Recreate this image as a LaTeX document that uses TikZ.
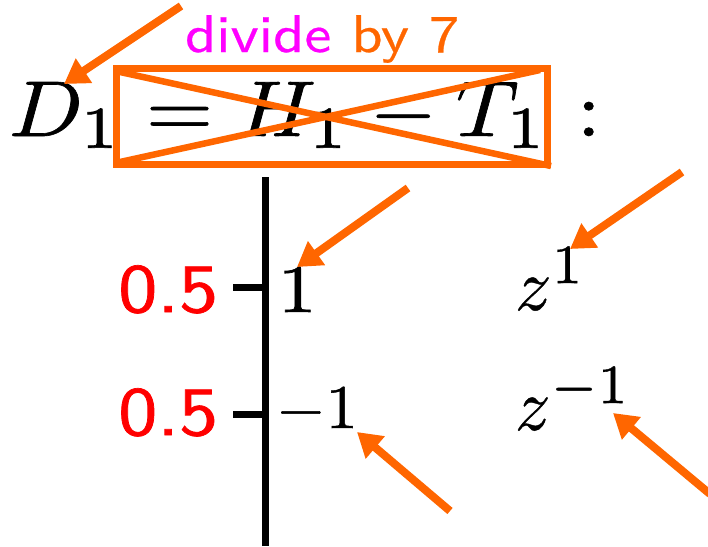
\RequirePackage{fix-cm}
\documentclass[tikz,border=0pt]{standalone}
\usepackage{amsmath}
\usetikzlibrary{arrows.meta}
\DeclareMathSizes{10}{10}{7.5}{5}
\definecolor{orangeC}{RGB}{255,102,0}
\definecolor{magC}{RGB}{255,0,255}
\definecolor{redC}{RGB}{255,0,0}
\newcommand\fbold[2]{\special{pdf:literal direct 2 Tr #1 w}#2\special{pdf:literal direct 0 Tr}}
\begin{document}
\begin{tikzpicture}[x=1pt,y=-1pt,
  oarrow/.style={draw=orangeC,line width=8pt,-{Triangle[length=24pt,width=28pt]}},
  obox/.style={draw=orangeC,line width=7pt},
  axisline/.style={draw=black,line width=7pt},
  lbl/.style={inner sep=0pt,outer sep=0pt,font=\fontsize{10}{12}\selectfont},
  ]
\useasboundingbox (0,0) rectangle (708,546);
% title
\node[lbl,anchor=base west] (title) at (9,136)
  {\scalebox{8.65}[7.9]{\fbold{0.08}{$D_1 = H_1 - T_1\mskip1mu:$}}};
\node[lbl,anchor=base west] (div) at (185,52)
  {\scalebox{6.05}[5.3]{\fbold{0.04}{\sffamily\textcolor{magC}{divide} \textcolor{orangeC}{by 7}}}};
% crossed box
\coordinate (bxA) at (116,68.5);
\coordinate (bxB) at (547.5,164.5);
\draw[obox] (bxA) rectangle (bxB);
\coordinate (c1a) at (120,72);
\coordinate (c1b) at (551,166);
\coordinate (c2a) at (120,162);
\coordinate (c2b) at (540,70);
\draw[obox,line width=6.5pt] (c1a) -- (c1b);
\draw[obox,line width=6.5pt] (c2a) -- (c2b);
% axis
\coordinate (axT) at (265.5,177);
\coordinate (axB) at (265.5,546);
\draw[axisline] (axT) -- (axB);
\coordinate (t1a) at (233,287);
\coordinate (t1b) at (265.5,287);
\coordinate (t2a) at (233,414);
\coordinate (t2b) at (265.5,414);
\draw[axisline] (t1a) -- (t1b);
\draw[axisline] (t2a) -- (t2b);
% labels
\node[lbl,anchor=base east,text=redC] (w1) at (218,312)
  {\scalebox{7.8}[6.9]{\fbold{0.1}{\sffamily 0.5}}};
\node[lbl,anchor=base east,text=redC] (w2) at (218,435)
  {\scalebox{7.8}[6.9]{\fbold{0.1}{\sffamily 0.5}}};
\node[lbl,anchor=base west] (v1) at (278,312)
  {\scalebox{7.7}[6.8]{\fbold{0.1}{$1$}}};
\node[lbl,anchor=base west] (v2) at (276,428)
  {\scalebox{6.4}[6.2]{\fbold{0.08}{$-1$}}};
\node[lbl,anchor=base west] (z1) at (515,310)
  {\scalebox{7.2}[7.4]{\fbold{0.05}{$z^{1}$}}};
\node[lbl,anchor=base west] (z2) at (515,430)
  {\scalebox{7.0}[7.4]{\fbold{0.05}{$z^{-1}$}}};
% arrows
\coordinate (a1s) at (181,6);   \coordinate (a1e) at (64,84);
\coordinate (a2s) at (408,188); \coordinate (a2e) at (297,267);
\coordinate (a3s) at (450,511); \coordinate (a3e) at (357,432);
\coordinate (a4s) at (682,172); \coordinate (a4e) at (570,249);
\coordinate (a5s) at (710,494); \coordinate (a5e) at (613,413);
\draw[oarrow] (a1s) -- (a1e);
\draw[oarrow] (a2s) -- (a2e);
\draw[oarrow] (a3s) -- (a3e);
\draw[oarrow] (a4s) -- (a4e);
\draw[oarrow] (a5s) -- (a5e);
\end{tikzpicture}
\end{document}
